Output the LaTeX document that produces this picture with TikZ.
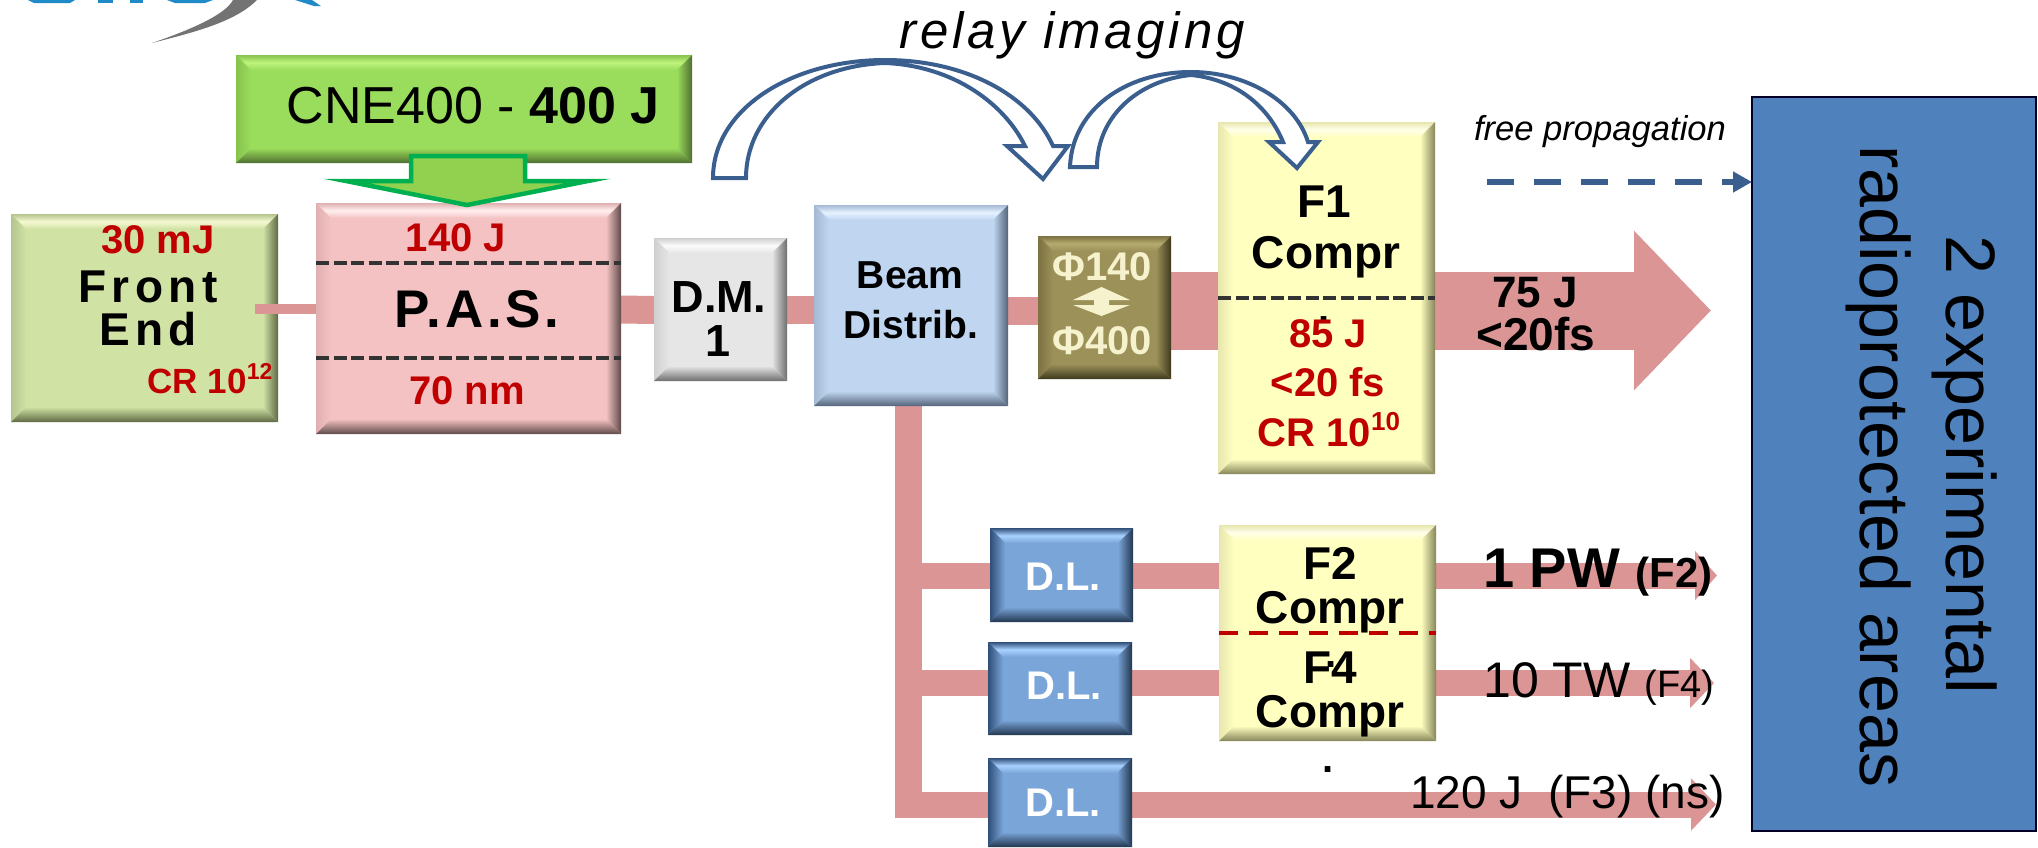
\documentclass[tikz,border=0pt]{standalone}
\usepackage{fontspec}
\setmainfont{Liberation Sans}
\usetikzlibrary{arrows.meta,backgrounds}
\newcommand{\palette}[5]{%
  \definecolor{#1b}{HTML}{#2}\definecolor{#1h}{HTML}{#3}%
  \definecolor{#1l}{HTML}{#4}\definecolor{#1o}{HTML}{#5}}
\palette{fe}{D0E2A4}{F6FAD2}{5F6A45}{B4C48C}
\palette{pas}{F4C2C2}{FFEFEF}{5F4A4A}{E0B0B0}
\palette{cne}{9ADD5C}{BEF47C}{4F6E30}{86C24E}
\palette{dm}{E6E6E6}{FBFBFB}{6E6E6E}{CFCFCF}
\palette{bd}{C0D6F0}{E6F2FF}{53647A}{A4BAD4}
\palette{ph}{9C9159}{B5AA6E}{3F391E}{7C7242}
\palette{fc}{FFFFC0}{FFFFEA}{85855A}{E6E6AE}
\palette{dl}{7AA5D8}{A8D2FF}{22364F}{2F4E78}
\definecolor{beamc}{HTML}{DB9595}
\definecolor{crimson}{HTML}{C00000}
\definecolor{relay}{HTML}{3A5F8F}
\definecolor{cream}{HTML}{F6F2CE}
\def\bw{15}
\newcommand{\bevbox}[6]{%
  \node[boxbase, fill=#6b, minimum width={(#4-#2)*1pt}, minimum height={(#5-#3)*1pt}]
    (#1) at ({(#2+#4)/2},{(#3+#5)/2}) {};
  \shade[top color=#6o, bottom color=#6b, middle color=#6h] (#2,#3)--(#4,#3)--(#4-\bw,#3+\bw)--(#2+\bw,#3+\bw)--cycle;
  \shade[left color=#6o, right color=#6b] (#2,#3)--(#2+\bw,#3+\bw)--(#2+\bw,#5-\bw)--(#2,#5)--cycle;
  \shade[left color=#6b, right color=#6l] (#4,#3)--(#4-\bw,#3+\bw)--(#4-\bw,#5-\bw)--(#4,#5)--cycle;
  \shade[top color=#6b, bottom color=#6l] (#2,#5)--(#4,#5)--(#4-\bw,#5-\bw)--(#2+\bw,#5-\bw)--cycle;
}
\tikzset{
  boxbase/.style={inner sep=0pt, outer sep=0pt, draw=none},
  beam/.style={draw=beamc, line width=#1},
  lbl/.style={inner sep=0pt, anchor=base},
  rg/.style={lbl, font=\fontsize{#1}{#1}\selectfont},
  bd/.style={lbl, font=\bfseries\fontsize{#1}{#1}\selectfont},
  red/.style={bd=#1, text=crimson},
  dashline/.style={draw=black!80, line width=4pt, dash pattern=on 13pt off 4.5pt},
  relaybody/.style={draw=relay, fill=white, line width=4pt, line join=miter},
}
\newcommand{\sups}[2]{\raisebox{#1pt}{\fontsize{#2}{#2}\selectfont}}
\begin{document}
\begin{tikzpicture}[x=1pt,y=-1pt]
\useasboundingbox (0,0) rectangle (2038,847);
% cropped logo
\fill[color={rgb,255:red,31;green,138;blue,200}] (28,0) -- (75,0) -- (70,3) -- (34,3) -- cycle;
\fill[color={rgb,255:red,31;green,138;blue,200}] (98,0) rectangle (113,3);
\fill[color={rgb,255:red,31;green,138;blue,200}] (130,0) rectangle (143,3);
\fill[color={rgb,255:red,31;green,138;blue,200}] (167,0) -- (213,0) -- (205,3) -- (175,3) -- cycle;
\fill[color={rgb,255:red,31;green,138;blue,200}] (295,0) -- (312,0) -- (321,6) -- (314,6) -- cycle;
\fill[black!55] (152,43) .. controls (190,30) and (225,15) .. (233,0) -- (257,0) .. controls (235,22) and (195,32) .. (152,43) -- cycle;
% boxes
\bevbox{cne}{236}{55}{692}{163}{cne}
\bevbox{fe}{11}{214}{278}{422}{fe}
\bevbox{pas}{316}{203}{621}{434}{pas}
\bevbox{dm}{654}{238}{787}{381}{dm}
\bevbox{bdist}{814}{205}{1008}{406}{bd}
\bevbox{phi}{1038}{236}{1171}{379}{ph}
\bevbox{fone}{1218}{122}{1435}{474}{fc}
\bevbox{dla}{990}{528}{1133}{622}{dl}
\bevbox{dlb}{988}{642}{1132}{735}{dl}
\bevbox{dlc}{988}{758}{1132}{847}{dl}
\bevbox{ftf}{1219}{525}{1436}{741}{fc}
\node[boxbase, draw=black!85!blue, fill={rgb,255:red,79;green,129;blue,189}, line width=2.5pt, minimum width=284pt, minimum height=734pt] (area) at (1894,464) {};
% beams
\coordinate (stub) at (255,309);
\coordinate (busend) at (908.5,818);
\coordinate (ja) at (908.5,575.5);
\coordinate (jb) at (908.5,683);
\coordinate (jc) at (908.5,804.5);
\coordinate (tipa) at (1717,575.5);
\coordinate (tipb) at (1714,683);
\coordinate (tipc) at (1716,804.5);
\coordinate (tipf) at (1711,310.5);
\draw[beam=10pt] (stub) -- (stub -| pas.west);
\begin{pgfonlayer}{background}
\draw[beam=28pt] (dm.west |- 0,310) -- (dm.west -| pas.east);
\draw[beam=28pt] (dm.east) -- (dm.east -| bdist.west);
\draw[beam=28pt] (tipf -| bdist.east) -- (tipf -| phi.west);
\draw[beam=78pt] (tipf -| phi.east) -- (tipf -| fone.west);
\draw[beam=78pt, -{Triangle[length=77pt,width=155pt]}] (tipf -| fone.east) -- (tipf);
\draw[beam=27pt] (busend |- bdist.south) -- (busend);
\draw[beam=26pt] (ja) -- (ja -| dla.west);
\draw[beam=26pt] (ja -| dla.east) -- (ja -| ftf.west);
\draw[beam=26pt, -{Triangle[length=22pt,width=48pt]}] (ja -| ftf.east) -- (tipa);
\draw[beam=26pt] (jb) -- (jb -| dlb.west);
\draw[beam=26pt] (jb -| dlb.east) -- (jb -| ftf.west);
\draw[beam=26pt, -{Triangle[length=24pt,width=49pt]}] (jb -| ftf.east) -- (tipb);
\draw[beam=26pt] (jc) -- (jc -| dlc.west);
\draw[beam=26pt, -{Triangle[length=25pt,width=51pt]}] (jc -| dlc.east) -- (tipc);
\end{pgfonlayer}
% green arrow
\draw[draw={rgb,255:red,0;green,176;blue,80}, fill={rgb,255:red,146;green,208;blue,80}, line width=4.5pt, miter limit=12]
 (411,156) -- (525,156) -- (525,181) -- (588,181) -- (467,205) -- (346,181) -- (411,181) -- cycle;
% relay arrows
\draw[relaybody] (713,178) .. controls (713,110) and (790,60) .. (885,60) .. controls (965,60) and (1030,95) .. (1053,146)
 -- (1068,146) -- (1043,179) -- (1007,146) -- (1025,146) .. controls (1005,105) and (955,66) .. (885,63)
 .. controls (805,66) and (746,115) .. (746,178) -- cycle;
\draw[relaybody] (1070,167) .. controls (1072,110) and (1125,72) .. (1191,72) .. controls (1245,72) and (1295,100) .. (1308,142)
 -- (1318,142) -- (1297,168) -- (1269,142) -- (1283,142) .. controls (1270,110) and (1240,80) .. (1191,75)
 .. controls (1140,80) and (1097,115) .. (1097,167) -- cycle;
% dashed separators
\coordinate (pda) at (0,263);
\coordinate (pdb) at (0,358);
\coordinate (fda) at (0,298);
\coordinate (fdb) at (0,633);
\draw[dashline] (pda -| pas.west) -- (pda -| pas.east);
\draw[dashline] (pdb -| pas.west) -- (pdb -| pas.east);
\draw[dashline] (fda -| fone.west) -- (fda -| fone.east);
\draw[line width=4pt, draw=crimson, dash pattern=on 19pt off 11pt] (fdb -| ftf.west) -- (fdb -| ftf.east);
% phi double arrow
\fill[cream] (1101.5,287) -- (1130,300) -- (1109,300) -- (1109,305) -- (1130,305) -- (1101.5,316) -- (1073,305) -- (1094,305) -- (1094,300) -- (1073,300) -- cycle;
% free propagation arrow
\coordinate (fp) at (1487,182);
\draw[draw=relay, line width=6pt, dash pattern=on 27pt off 20pt, -{Triangle[length=19pt,width=20pt]}] (fp) -- (fp -| area.west);
% texts
\node[bd=52, font=\fontsize{52}{52}\selectfont] (tcne) at (473,123) {CNE400 - \textbf{400 J}};
\node[red=40] (t30) at (158,253) {30 mJ};
\node[bd=46] (tfront) at (148,302) {\addfontfeature{LetterSpace=12}Front};
\node[bd=46] (tend) at (148,345) {\addfontfeature{LetterSpace=12}End};
\node[red=35] (tcra) at (210,393) {CR 10\raisebox{14pt}{\fontsize{23}{23}\selectfont 12}};
\node[red=40] (t140) at (456,251) {140 J};
\node[bd=53] (tpas) at (477,327) {\addfontfeature{LetterSpace=7}P.A.S.};
\node[red=40] (t70) at (467,404) {70 nm};
\node[bd=45] (tdm) at (719,312) {D.M.};
\node[bd=45] (tdmo) at (718,356) {1};
\node[bd=39] (tbeam) at (910,288) {Beam};
\node[bd=39] (tdist) at (911,338) {Distrib.};
\node[bd=40, text=cream] (tpa) at (1102,280) {Φ140};
\node[bd=40, text=cream] (tpb) at (1102,354) {Φ400};
\node[bd=46] (tfo) at (1324,217) {F1};
\node[bd=46] (tfoc) at (1326,268) {Compr};
\node[bd=40] (tsa) at (1324,322) {.};
\node[red=40] (t85) at (1328,347) {85 J};
\node[red=40] (t20) at (1328,396) {<20 fs};
\node[red=40] (tcrb) at (1329,446) {CR 10\raisebox{16pt}{\fontsize{26}{26}\selectfont 10}};
\node[bd=44] (t75) at (1535,307) {75 J};
\node[bd=46] (t20b) at (1536,350) {<20fs};
\node[bd=46] (tft) at (1330,579) {F2};
\node[bd=46] (tftc) at (1330,623) {Compr};
\node[bd=46] (tff) at (1330,683) {F4};
\node[bd=46] (tffc) at (1330,727) {Compr};
\node[bd=40] (tsb) at (1331,667) {.};
\node[bd=40] (tsc) at (1328,772) {.};
\node[bd=40, text=white] (tdla) at (1063,590) {D.L.};
\node[bd=40, text=white] (tdlb) at (1064,699) {D.L.};
\node[bd=40, text=white] (tdlc) at (1063,816) {D.L.};
\node[lbl, anchor=base west, font=\bfseries\fontsize{56}{56}\selectfont] (tpw) at (1483,587) {1 PW \fontsize{42}{42}\selectfont (F2)};
\node[lbl, anchor=base west, font=\fontsize{50}{50}\selectfont] (ttw) at (1483,697) {10 TW \fontsize{38}{38}\selectfont (F4)};
\node[lbl, anchor=base west, font=\fontsize{46}{46}\selectfont] (tns) at (1410,808) {120 J\ \ (F3) (ns)};
\node[lbl, font=\itshape\fontsize{51}{51}\selectfont] (trelay) at (1072,48) {\addfontfeature{LetterSpace=7.5}relay imaging};
\node[lbl, font=\itshape\fontsize{34.6}{35}\selectfont] (tfree) at (1600,140) {free propagation};
\node[lbl, anchor=base west, rotate=-90, font=\fontsize{70}{70}\selectfont] (tra) at (1860,145) {radioprotected areas};
\node[lbl, anchor=base west, rotate=-90, font=\fontsize{70}{70}\selectfont] (trb) at (1946,235) {2 experimental};
\end{tikzpicture}
\end{document}
